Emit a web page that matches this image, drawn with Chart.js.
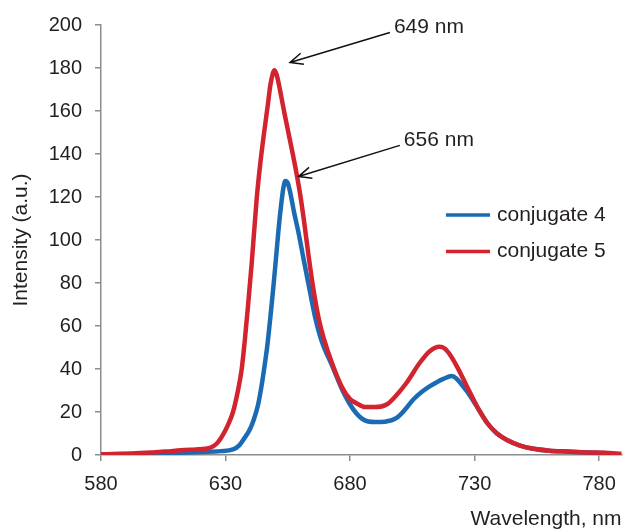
<!DOCTYPE html>
<html>
<head>
<meta charset="utf-8">
<script src="https://cdn.jsdelivr.net/npm/chart.js@4.4.0/dist/chart.umd.min.js"></script>
<style>
  html, body { margin: 0; padding: 0; background: #fff; }
  #wrap { width: 627px; height: 531px; }
</style>
</head>
<body>
<div id="wrap"><canvas id="spectrum"></canvas></div>
<script>
// emission spectra
var wavelength4 = [580, 600, 610, 620, 628, 633, 635.5, 637.2, 639.8, 641.5, 643, 644.3, 645.5, 646.8, 648, 649.2, 650.3, 651.3, 652.3, 653.2, 654, 655, 656, 657.5, 659.2, 661.2, 663.9, 666, 668.6, 673, 677, 681.3, 685.3, 690, 694, 698.7, 702, 705.4, 709, 712.1, 715, 717.5, 720.8, 722.8, 724.8, 727, 732, 735, 739, 743, 748, 753, 760, 767, 775, 782, 786];
var intensity4 = [0.3, 0.5, 1, 1.4, 1.8, 2.6, 4.5, 7.2, 12, 17, 23, 31, 40, 51, 64, 78, 92, 105, 116, 124, 127.5, 126.5, 122, 113, 104, 92, 76, 64, 53, 41, 30, 21.2, 16.5, 15.3, 15.5, 17.3, 21, 25.8, 29.5, 32, 34, 35.4, 36.7, 35.5, 32.8, 29.5, 20.5, 15, 10, 7, 4.5, 3, 2, 1.6, 1.2, 0.9, 0.6];

var wavelength5 = [580, 594, 600, 606, 612, 618, 622, 625, 627, 629, 631, 633, 635, 636.5, 637.8, 639, 640.5, 642.5, 644, 645.5, 647, 648, 649, 649.6, 650.5, 651.5, 652.5, 654, 655.5, 657, 658.5, 660, 661.5, 663.3, 665.3, 667.5, 669.5, 673, 677, 680, 682.7, 686, 690, 694.7, 698, 702.7, 708, 712, 715.9, 718, 720.2, 723, 726.9, 732, 735, 739, 743, 748, 753, 760, 767, 775, 782, 789];
var intensity5 = [0.3, 0.8, 1.2, 1.6, 2.2, 2.6, 2.9, 4, 6, 9.5, 14, 20, 30, 40, 54, 69, 89, 119, 136, 150, 163, 172, 177.5, 179, 177, 172, 166, 157, 148.5, 140, 131, 121, 109, 93, 77, 63, 54, 42, 31, 26, 24, 22.3, 22.3, 23.5, 27, 33.6, 42.9, 48.3, 50.3, 49.5, 46.5, 41, 32, 20.5, 15, 10, 7, 4.5, 3, 2, 1.6, 1.2, 1, 0.6];

var seriesNames = ['conjugate 4', 'conjugate 5'];
var xTickValues = [580, 630, 680, 730, 780];

// peak labels: arrow tip / tail in data units
var peakLabels = ['649 nm', '656 nm'];
var arrowTipX = [655.9, 659.3];
var arrowTipY = [182.6, 129.5];
var arrowTailX = [696, 700];
var arrowTailY = [196.5, 144];

var textColor = '#231f20';
var axisColor = '#8c8c8c';
var fontFamily = '"Liberation Sans", Arial, Helvetica, sans-serif';

function toPoints(xs, ys) {
  return xs.map(function (x, i) { return { x: x, y: ys[i] }; });
}

var overlay = {
  id: 'overlay',
  afterDatasetsDraw: function (chart) {
    var ctx = chart.ctx;
    var xs = chart.scales.x, ys = chart.scales.y;
    ctx.save();

    // arrows + peak labels
    ctx.strokeStyle = '#111';
    ctx.lineWidth = 1.5;
    ctx.fillStyle = textColor;
    ctx.font = '21px ' + fontFamily;
    ctx.textAlign = 'left';
    ctx.textBaseline = 'middle';
    for (var i = 0; i < peakLabels.length; i++) {
      var tx = xs.getPixelForValue(arrowTipX[i]), ty = ys.getPixelForValue(arrowTipY[i]);
      var sx = xs.getPixelForValue(arrowTailX[i]), sy = ys.getPixelForValue(arrowTailY[i]);
      ctx.beginPath();
      ctx.moveTo(sx, sy);
      ctx.lineTo(tx, ty);
      var ang = Math.atan2(sy - ty, sx - tx);
      var len = 14, spread = 0.42;
      ctx.moveTo(tx + len * Math.cos(ang + spread), ty + len * Math.sin(ang + spread));
      ctx.lineTo(tx, ty);
      ctx.lineTo(tx + len * Math.cos(ang - spread), ty + len * Math.sin(ang - spread));
      ctx.stroke();
      ctx.fillText(peakLabels[i], sx + 4, sy - 5);
    }

    // legend
    var lx = 446, ly = 215, gap = 36.5;
    chart.data.datasets.forEach(function (ds) {
      var idx = seriesNames.indexOf(ds.label);
      var y = ly + idx * gap;
      ctx.strokeStyle = ds.borderColor;
      ctx.lineWidth = 3.5;
      ctx.beginPath();
      ctx.moveTo(lx, y);
      ctx.lineTo(lx + 44, y);
      ctx.stroke();
      ctx.fillStyle = textColor;
      ctx.fillText(ds.label, lx + 51, y);
    });
    ctx.restore();
  }
};

new Chart(document.getElementById('spectrum'), {
  type: 'line',
  data: {
    datasets: [{
      label: seriesNames[0],
      data: toPoints(wavelength4, intensity4),
      borderColor: '#1a6ab4',
      borderWidth: 4.5,
      order: 1
    }, {
      label: seriesNames[1],
      data: toPoints(wavelength5, intensity5),
      borderColor: '#d2232f',
      borderWidth: 4.5,
      order: 0
    }]
  },
  options: {
    responsive: true,
    maintainAspectRatio: false,
    animation: false,
    cubicInterpolationMode: 'monotone',
    elements: { point: { radius: 0 }, line: { borderCapStyle: 'round', borderJoinStyle: 'round' } },
    layout: { padding: { top: 25, right: 5, left: 0, bottom: 0 } },
    plugins: { legend: { display: false }, tooltip: { enabled: false } },
    scales: {
      x: {
        type: 'linear',
        min: 580,
        max: 789,
        afterBuildTicks: function (s) { s.ticks = xTickValues.map(function (v) { return { value: v }; }); },
        afterFit: function (s) { s.height = 76; },
        border: { color: axisColor, width: 1.5 },
        grid: { drawOnChartArea: false, drawTicks: true, tickLength: 6, color: axisColor, lineWidth: 1.5 },
        ticks: { color: textColor, font: { family: fontFamily, size: 20 }, padding: 11, maxRotation: 0 },
        title: {
          display: true, text: 'Wavelength, nm', align: 'end', color: textColor,
          font: { family: fontFamily, size: 21, lineHeight: 1 }, padding: { top: 0, bottom: 1 }
        }
      },
      y: {
        min: 0,
        max: 200,
        afterFit: function (s) { s.width = 101; },
        border: { color: axisColor, width: 1.5 },
        grid: { drawOnChartArea: false, drawTicks: true, tickLength: 6, color: axisColor, lineWidth: 1.5 },
        ticks: { stepSize: 20, color: textColor, font: { family: fontFamily, size: 20 }, padding: 13 },
        title: {
          display: true, text: 'Intensity (a.u.)', color: textColor,
          font: { family: fontFamily, size: 21, lineHeight: 1 }, padding: { top: 11, bottom: 0 }
        }
      }
    }
  },
  plugins: [overlay]
});
</script>
</body>
</html>
